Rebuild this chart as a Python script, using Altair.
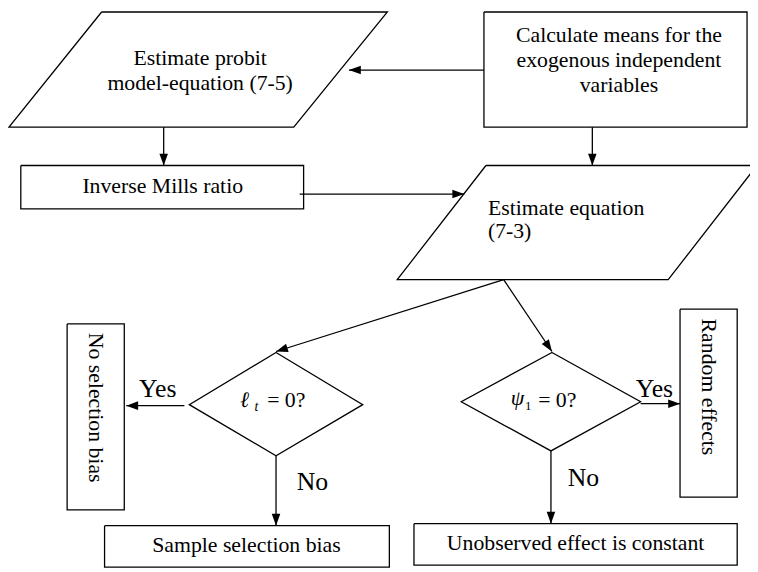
import math
import altair as alt
import pandas as pd

# ---- flowchart outlines (vertices, pixel coords) ----
shape_names = ["probit", "means", "mills", "estimate", "diamond_l", "diamond_r",
               "no_bias", "random", "sample_bias", "unobserved"]
shape_xs = [
    [100, 390, 295, 6, 100],
    [488, 755, 755, 488, 488],
    [18, 305, 305, 18, 18],
    [490, 765, 675, 400, 490],
    [277, 365, 277, 189, 277],
    [557, 647, 556, 465, 557],
    [65, 123, 123, 65, 65],
    [687, 745, 745, 687, 687],
    [103, 392, 392, 103, 103],
    [417, 745, 745, 417, 417],
]
shape_ys = [
    [6, 6, 123, 123, 6],
    [6, 6, 123, 123, 6],
    [162, 162, 206, 206, 162],
    [162, 162, 278, 278, 162],
    [352, 405, 457, 405, 352],
    [352, 402, 452, 402, 352],
    [323, 323, 512, 512, 323],
    [308, 308, 499, 499, 308],
    [528, 528, 570, 570, 528],
    [526, 526, 568, 568, 526],
]

# ---- connectors (start -> arrow tip) ----
arrow_x1 = [488, 163, 598, 301, 508, 508, 184, 647, 277, 556]
arrow_y1 = [65, 123, 123, 191, 278, 278, 406, 404, 457, 452]
arrow_x2 = [351, 163, 598, 468, 277, 557, 125, 687, 277, 556]
arrow_y2 = [65, 162, 162, 191, 351, 351, 406, 404, 528, 526]

# ---- box labels (centered) ----
center_text = ["Estimate probit", "model-equation (7-5)",
               "Calculate means for the", "exogenous independent", "variables",
               "Inverse Mills ratio", "Sample selection bias",
               "Unobserved effect is constant",
               "Yes", "Yes", "No", "No", "1"]
center_x = [200, 200, 625, 625, 625, 162, 247, 581, 157, 661, 314, 589, 533]
center_y = [60, 85, 36, 62, 87, 190, 555, 553, 397, 397, 492, 488, 410]
center_size = [22, 22, 22, 22, 22, 22, 22, 22, 26, 26, 26, 26, 13]

# ---- left-aligned labels ----
left_text = ["Estimate equation", "(7-3)", "= 0?", "= 0?"]
left_x = [492, 492, 268, 543]
left_y = [212, 236, 407, 407]

# ---- italic math symbols ----
italic_text = ["\u2113", "t", "\u03c8"]
italic_x = [245, 257, 522]
italic_y = [407, 411, 405]
italic_size = [22, 14, 22]

# ---- rotated labels ----
rot_text = ["No selection bias", "Random effects"]
rot_x = [94, 716]
rot_y = [408, 387]

FONT = "Liberation Serif, Times New Roman, DejaVu Serif, serif"

rows = []
for n, xs, ys in zip(shape_names, shape_xs, shape_ys):
    for i, (a, b) in enumerate(zip(xs, ys)):
        rows.append({"shape": n, "ord": i, "x": a, "y": b})
shapes_df = pd.DataFrame(rows)

arrows_df = pd.DataFrame({"x": arrow_x1, "y": arrow_y1, "x2": arrow_x2, "y2": arrow_y2})
arrows_df["angle"] = [
    (math.degrees(math.atan2(x2 - x1, -(y2 - y1))) + 360) % 360
    for x1, y1, x2, y2 in zip(arrow_x1, arrow_y1, arrow_x2, arrow_y2)
]

center_df = pd.DataFrame({"t": center_text, "x": center_x, "y": center_y, "s": center_size})
left_df = pd.DataFrame({"t": left_text, "x": left_x, "y": left_y})
italic_df = pd.DataFrame({"t": italic_text, "x": italic_x, "y": italic_y, "s": italic_size})
rot_df = pd.DataFrame({"t": rot_text, "x": rot_x, "y": rot_y})

xs_scale = alt.Scale(domain=[5, 758], nice=False, zero=False)
ys_scale = alt.Scale(domain=[5, 572], nice=False, zero=False, reverse=True)
X = lambda f="x": alt.X(f + ":Q", scale=xs_scale, axis=None)
Y = lambda f="y": alt.Y(f + ":Q", scale=ys_scale, axis=None)

outlines = alt.Chart(shapes_df).mark_line(color="black", strokeWidth=1.3).encode(
    x=X(), y=Y(), detail="shape:N", order="ord:Q")

rules = alt.Chart(arrows_df).mark_rule(color="black", strokeWidth=1.3).encode(
    x=X(), y=Y(), x2="x2:Q", y2="y2:Q")

heads = alt.Chart(arrows_df).mark_point(
    shape="M0,0L0.36,1L-0.36,1Z", filled=True, color="black", opacity=1,
    size=576, strokeWidth=0).encode(
    x=X("x2"), y=Y("y2"), angle=alt.Angle("angle:Q", scale=None))

t_center = alt.Chart(center_df).mark_text(
    font=FONT, align="center", baseline="alphabetic", color="black").encode(
    x=X(), y=Y(), text="t:N", size=alt.Size("s:Q", scale=None))

t_left = alt.Chart(left_df).mark_text(
    font=FONT, fontSize=22, align="left", baseline="alphabetic", color="black").encode(
    x=X(), y=Y(), text="t:N")

t_italic = alt.Chart(italic_df).mark_text(
    font=FONT, fontStyle="italic", align="center", baseline="alphabetic",
    color="black").encode(
    x=X(), y=Y(), text="t:N", size=alt.Size("s:Q", scale=None))

t_rot = alt.Chart(rot_df).mark_text(
    font=FONT, fontSize=22, align="center", baseline="middle", angle=90,
    color="black").encode(x=X(), y=Y(), text="t:N")

chart = alt.layer(outlines, rules, heads, t_center, t_left, t_italic, t_rot).properties(
    width=750, height=564, padding=0, autosize=alt.AutoSizeParams(type="none"),
    background="white",
).configure_view(stroke=None)

chart.save("out.html", embed_options={"renderer": "svg", "actions": False})
